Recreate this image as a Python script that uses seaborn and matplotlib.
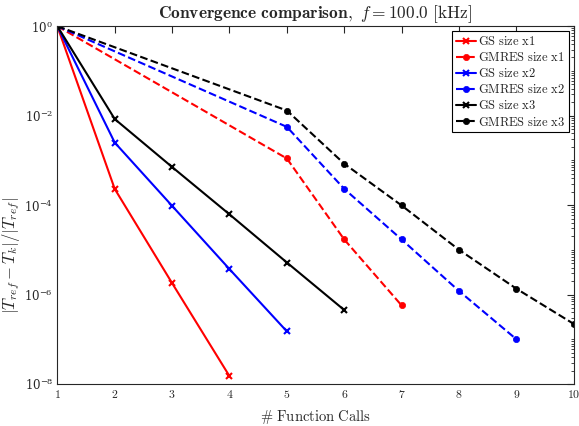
import numpy as np
import pandas as pd
import matplotlib
matplotlib.use('Agg')
import matplotlib.pyplot as plt
import matplotlib.ticker as mticker
import seaborn as sns

# function-call counts and relative errors
gs_x1_calls = [1, 2, 3, 4]
gs_x1_err = [1.0, 2.3e-4, 1.8e-6, 1.5e-8]
gmres_x1_calls = [1, 5, 6, 7]
gmres_x1_err = [1.0, 1.1e-3, 1.7e-5, 5.7e-7]

gs_x2_calls = [1, 2, 3, 4, 5]
gs_x2_err = [1.0, 2.5e-3, 9.6e-5, 3.7e-6, 1.5e-7]
gmres_x2_calls = [1, 5, 6, 7, 8, 9]
gmres_x2_err = [1.0, 5.6e-3, 2.3e-4, 1.7e-5, 1.2e-6, 1.0e-7]

gs_x3_calls = [1, 2, 3, 4, 5, 6]
gs_x3_err = [1.0, 8.4e-3, 7.1e-4, 6.2e-5, 5.2e-6, 4.5e-7]
gmres_x3_calls = [1, 5, 6, 7, 8, 9, 10]
gmres_x3_err = [1.0, 1.3e-2, 8.4e-4, 9.8e-5, 1.0e-5, 1.35e-6, 2.2e-7]

series = [
    ('GS size x1', gs_x1_calls, gs_x1_err, 'red', '-', 'x'),
    ('GMRES size x1', gmres_x1_calls, gmres_x1_err, 'red', '--', 'o'),
    ('GS size x2', gs_x2_calls, gs_x2_err, 'blue', '-', 'x'),
    ('GMRES size x2', gmres_x2_calls, gmres_x2_err, 'blue', '--', 'o'),
    ('GS size x3', gs_x3_calls, gs_x3_err, 'black', '-', 'x'),
    ('GMRES size x3', gmres_x3_calls, gmres_x3_err, 'black', '--', 'o'),
]

sns.set_style('white')
plt.rcParams['font.family'] = ['DejaVu Serif']
plt.rcParams['mathtext.fontset'] = 'cm'

fig = plt.figure(figsize=(5.79, 4.26), dpi=100)
ax = fig.add_axes([0.099, 0.0986, 0.892, 0.840])

for name, calls, err, color, ls, mk in series:
    df = pd.DataFrame({'calls': calls, 'err': err})
    sns.lineplot(data=df, x='calls', y='err', ax=ax, color=color, linestyle=ls,
                 marker=mk, markersize=5 if mk == 'x' else 4.5,
                 markeredgewidth=1.5 if mk == 'x' else 0.5, markeredgecolor=color,
                 linewidth=1.5, label=name, sort=False)

ax.set_yscale('log')
ax.set_xlim(1, 10)
ax.set_ylim(1e-8, 1)

ax.xaxis.set_major_locator(mticker.FixedLocator(range(1, 11)))
ax.set_xticklabels([f'${v}$' for v in range(1, 11)])
ax.yaxis.set_major_locator(mticker.FixedLocator([1e-8, 1e-6, 1e-4, 1e-2, 1]))
ax.yaxis.set_minor_locator(mticker.LogLocator(base=10, subs=np.arange(1, 10), numticks=20))
ax.yaxis.set_minor_formatter(mticker.NullFormatter())

ax.tick_params(which='both', direction='in', top=True, right=True, labelsize=8.5,
               colors='#262626', pad=3)
ax.tick_params(which='major', length=5, width=0.8)
ax.tick_params(which='minor', length=2.5, width=0.6)
for sp in ax.spines.values():
    sp.set_color('#262626')
    sp.set_linewidth(0.8)

ax.set_xlabel(r'$\#\ \mathrm{Function\ Calls}$', fontsize=10.5, labelpad=5)
ax.set_ylabel(r'$|T_{ref} - T_k|/|T_{ref}|$', fontsize=12)
ax.yaxis.set_label_coords(-0.068, 0.36)
ax.set_title(r'$\mathbf{Convergence\ comparison},\ f = 100.0\ [\mathrm{kHz}]$', fontsize=12.5, pad=6)

leg = ax.legend(loc='upper right', fontsize=9, frameon=True, fancybox=False,
                edgecolor='black', framealpha=1, borderpad=0.3, labelspacing=0.25,
                handlelength=1.6, handletextpad=0.2, borderaxespad=0.4,
                prop={'family': 'serif', 'math_fontfamily': 'cm', 'size': 9})
leg.get_frame().set_linewidth(0.8)
for t in leg.get_texts():
    t.set_text('$\\mathrm{' + t.get_text().replace(' ', '\\ ') + '}$')

fig.savefig('out.png', dpi=100)
